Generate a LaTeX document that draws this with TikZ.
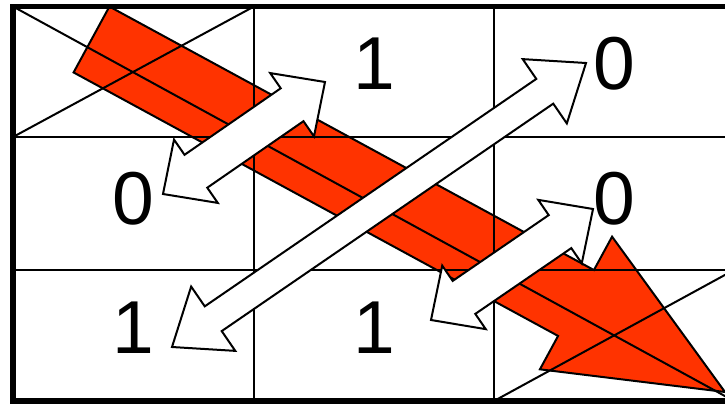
\documentclass[tikz,border=0pt]{standalone}
\usepackage{fontspec}
\setmainfont{Liberation Sans}
\usetikzlibrary{calc}
\definecolor{redarrow}{RGB}{255,51,0}
\tikzset{
  gridline/.style={line width=2.8pt, draw=black},
  frame/.style={line width=5.5pt, draw=black},
  diagline/.style={line width=2pt, draw=black},
  whitearrow/.style={fill=white, draw=black, line width=2pt, line join=miter},
  redshape/.style={fill=redarrow, draw=black, line width=2pt, line join=miter},
  digit/.style={font=\fontsize{75}{80}\selectfont, inner sep=0pt, anchor=base},
}
% double-headed block arrow: #1 tip A, #2 tip B, #3 head length, #4 head half width, #5 shaft half width
\newcommand{\DoubleBlockArrow}[5]{%
  \path ($(#1)!#3!(#2)$) coordinate (dA) ($(#2)!#3!(#1)$) coordinate (dB);
  \draw[whitearrow] (#1) -- ($(dA)!#4!90:(#2)$) -- ($(dA)!#5!90:(#2)$)
    -- ($(dB)!#5!-90:(#1)$) -- ($(dB)!#4!-90:(#1)$) -- (#2)
    -- ($(dB)!#4!90:(#1)$) -- ($(dB)!#5!90:(#1)$)
    -- ($(dA)!#5!-90:(#2)$) -- ($(dA)!#4!-90:(#2)$) -- cycle;
}
% single-headed block arrow: #1 tail centre, #2 head-base centre, #3 tip, #4 head half width, #5 shaft half width
\newcommand{\SingleBlockArrow}[5]{%
  \draw[redshape] ($(#1)!#5!-90:(#2)$) -- ($(#2)!#5!90:(#1)$) -- ($(#2)!#4!90:(#1)$)
    -- (#3) -- ($(#2)!#4!-90:(#1)$) -- ($(#2)!#5!-90:(#1)$) -- ($(#1)!#5!90:(#2)$) -- cycle;
}
\begin{document}
\begin{tikzpicture}[x=1pt,y=-1pt]
\useasboundingbox (0,0) rectangle (725,404);
\clip (0,0) rectangle (725,404);
\fill[white] (0,0) rectangle (725,404);
% grid corners
\coordinate (g00) at (13,6.5);
\coordinate (g33) at (734,401);
\coordinate (v1t) at (254,6.5);
\coordinate (v1b) at (254,401);
\coordinate (v2t) at (494,6.5);
\coordinate (v2b) at (494,401);
\coordinate (h1l) at (13,137);
\coordinate (h1r) at (734,137);
\coordinate (h2l) at (13,270);
\coordinate (h2r) at (734,270);
% red arrow
\coordinate (rs) at (91.5,39.5);
\coordinate (rh) at (576,303);
\coordinate (rt) at (725,392);
\SingleBlockArrow{rs}{rh}{rt}{75.5pt}{37.5pt}
% grid
\draw[gridline] (v1t) -- (v1b) (v2t) -- (v2b) (h1l) -- (h1r) (h2l) -- (h2r);
\draw[diagline] (g00) -- (g33) (h1l) -- (v1t) (v2b) -- (h2r);
\draw[frame] (g00) rectangle (g33);
% white double arrows
\coordinate (a1) at (163,194);
\coordinate (a2) at (325,82);
\coordinate (b1) at (172,347);
\coordinate (b2) at (586,63);
\coordinate (c1) at (431,320);
\coordinate (c2) at (593,209);
\DoubleBlockArrow{a1}{a2}{40pt}{38.5pt}{20pt}
\DoubleBlockArrow{b1}{b2}{50pt}{39pt}{15pt}
\DoubleBlockArrow{c1}{c2}{40pt}{38.5pt}{20pt}
% digits
\node[digit] (t01) at (374,89) {1};
\node[digit] (t02) at (614,89) {0};
\node[digit] (t10) at (133.5,224) {0};
\node[digit] (t12) at (614,224) {0};
\node[digit] (t20) at (133.5,353) {1};
\node[digit] (t21) at (374,353) {1};
\end{tikzpicture}
\end{document}
